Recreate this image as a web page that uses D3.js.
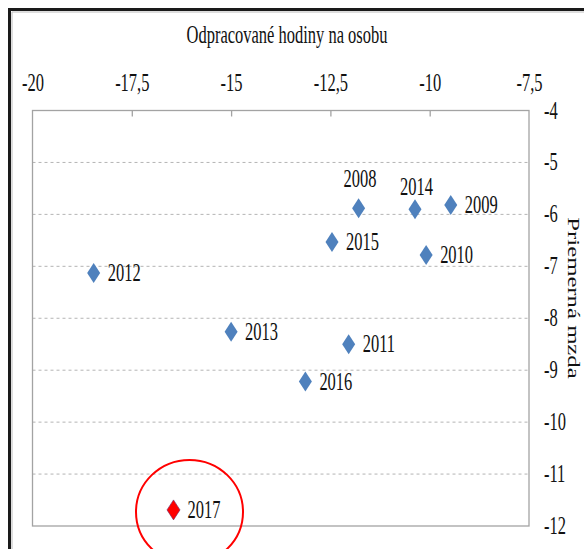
<!DOCTYPE html>
<html>
<head>
<meta charset="utf-8">
<script src="https://cdn.jsdelivr.net/npm/d3@7"></script>
<style>
  html, body { margin: 0; padding: 0; background: #fff; }
  svg { display: block; }
  text { font-family: "Liberation Serif", "Times New Roman", serif; fill: #111; }
</style>
</head>
<body>
<svg id="chart" width="584" height="549"></svg>
<script>
// ---- data ----
const years      = ["2008", "2009", "2010", "2011", "2012", "2013", "2014", "2015", "2016", "2017"];
const hoursValue = [-11.79, -9.47, -10.09, -12.04, -18.46, -15.0, -10.37, -12.46, -13.13, -16.45];
const wageValue  = [-5.88, -5.82, -6.78, -8.50, -7.13, -8.26, -5.90, -6.53, -9.22, -11.69];
const highlight  = ["2017"];
const xTicks = [-20, -17.5, -15, -12.5, -10, -7.5];
const yTicks = [-4, -5, -6, -7, -8, -9, -10, -11, -12];
const xTitle = "Odpracované hodiny na osobu";
const yTitle = "Priemerná mzda";

// ---- label placement (style) ----
const labelAbove = { "2008": -21, "2014": -14 };

(function () {
const svg = d3.select("#chart");
const W = 584, H = 549;
const pL = 32.5, pR = 529, pT = 110.5, pB = 526;
const SY = 1.5;        // vertical stretch of the original picture
const FS = 16.5;

const fmt = d3.formatLocale({ decimal: ",", thousands: " ", grouping: [3], currency: ["", ""], minus: "-" }).format("~g");

const x = d3.scaleLinear().domain([-20, -7.5]).range([pL, pR]);
const y = d3.scaleLinear().domain([-4, -12]).range([pT, pB]);

// outer frame
svg.append("path")
  .attr("d", `M9.5,${H + 5} L9.5,9.5 L${W + 5},9.5`)
  .attr("fill", "none").attr("stroke", "#1a1a1a").attr("stroke-width", 3);
svg.append("path")
  .attr("d", `M12,${H + 5} L12,12 L${W + 5},12`)
  .attr("fill", "none").attr("stroke", "#bbb").attr("stroke-width", 1);

// gridlines
svg.append("g").selectAll("line")
  .data(yTicks.filter(d => d !== -4 && d !== -12))
  .join("line")
  .attr("x1", pL).attr("x2", pR)
  .attr("y1", d => y(d)).attr("y2", d => y(d))
  .attr("stroke", "#b4b4b4").attr("stroke-width", 1)
  .attr("stroke-dasharray", "3,3");

// plot box
svg.append("rect")
  .attr("x", pL).attr("y", pT)
  .attr("width", pR - pL).attr("height", pB - pT)
  .attr("fill", "none").attr("stroke", "#a3a3a3").attr("stroke-width", 1.3);

function stretchText(sel) {
  sel.each(function () {
    const t = d3.select(this);
    const ty = +t.attr("data-ty");
    t.attr("y", 0).attr("dy", null)
     .attr("transform", `translate(0,${ty}) scale(1,${SY})`);
  });
}

// top x axis
const gx = svg.append("g").attr("transform", `translate(0,${pT})`)
  .call(d3.axisTop(x).tickValues(xTicks).tickFormat(fmt).tickSizeInner(-6).tickSizeOuter(0).tickPadding(0));
gx.select(".domain").remove();
gx.selectAll(".tick line").attr("stroke", "#a3a3a3").attr("stroke-width", 1.3)
  .filter(d => d === -20 || d === -7.5).remove();
gx.selectAll(".tick text")
  .attr("font-size", FS).attr("text-anchor", "middle").attr("fill", "#111")
  .attr("data-ty", -19.5)
  .call(stretchText);

// right y axis
const gy = svg.append("g").attr("transform", `translate(${pR},0)`)
  .call(d3.axisRight(y).tickValues(yTicks).tickFormat(fmt).tickSize(0).tickPadding(15));
gy.select(".domain").remove();
gy.selectAll(".tick text")
  .attr("font-size", FS).attr("text-anchor", "start").attr("fill", "#111")
  .attr("data-ty", 7.5)
  .call(stretchText);

// titles
svg.append("text")
  .attr("transform", `translate(287,43) scale(1,${SY})`)
  .attr("text-anchor", "middle").attr("font-size", FS)
  .text(xTitle);
svg.append("text")
  .attr("transform", `translate(568,298) scale(1,${SY}) rotate(90)`)
  .attr("text-anchor", "middle").attr("font-size", FS)
  .text(yTitle);

// points
const pts = years.map((yr, i) => ({ yr, hx: hoursValue[i], wy: wageValue[i] }));
const diamond = "M0,-10 L6.5,0 L0,10 L-6.5,0 Z";

const gp = svg.append("g");
gp.selectAll("path").data(pts).join("path")
  .attr("d", diamond)
  .attr("transform", d => `translate(${x(d.hx)},${y(d.wy)})`)
  .attr("fill", d => highlight.includes(d.yr) ? "#ff0000" : "#4f81bd")
  .attr("stroke", d => highlight.includes(d.yr) ? "#6a2a6a" : "none")
  .attr("stroke-width", 0.6);

gp.selectAll("text").data(pts).join("text")
  .attr("transform", d => {
    if (labelAbove[d.yr] !== undefined)
      return `translate(${x(d.hx) + 1.5},${y(d.wy) + labelAbove[d.yr]}) scale(1,${SY})`;
    return `translate(${x(d.hx) + 14},${y(d.wy) + 8}) scale(1,${SY})`;
  })
  .attr("text-anchor", d => labelAbove[d.yr] !== undefined ? "middle" : "start")
  .attr("font-size", FS)
  .text(d => d.yr);

// highlight ellipse around 2017
const hl = pts.filter(d => highlight.includes(d.yr));
svg.append("g").selectAll("ellipse").data(hl).join("ellipse")
  .attr("cx", d => x(d.hx) + 16)
  .attr("cy", d => y(d.wy) + 2)
  .attr("rx", 53.5).attr("ry", 52)
  .attr("fill", "none").attr("stroke", "#ff0000").attr("stroke-width", 2);
})();
</script>
</body>
</html>
